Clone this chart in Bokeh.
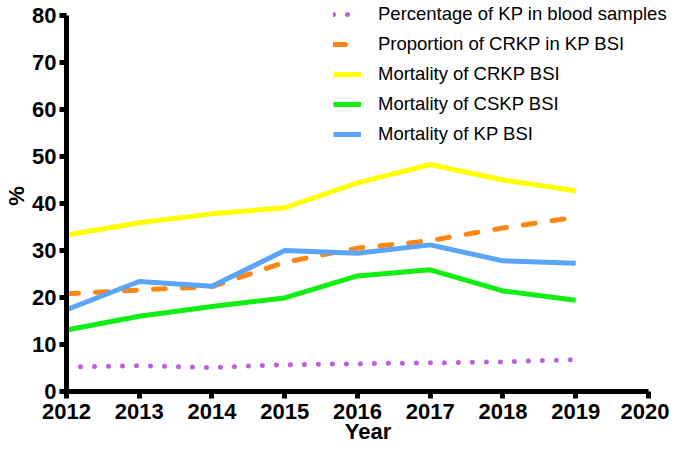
from bokeh.plotting import figure
from bokeh.models import Range1d, Legend, LegendItem, FixedTicker
from bokeh.embed import file_html
from bokeh.resources import INLINE

years = [2012, 2013, 2014, 2015, 2016, 2017, 2018, 2019]
pct_kp_blood = [5.2, 5.5, 5.1, 5.7, 5.9, 6.1, 6.3, 6.8]
prop_crkp = [20.8, 21.6, 22.3, 27.5, 30.5, 32.1, 34.8, 37.1]
mort_crkp = [33.3, 35.9, 37.8, 39.1, 44.4, 48.3, 45.0, 42.7]
mort_cskp = [13.1, 16.0, 18.1, 19.9, 24.6, 25.9, 21.4, 19.4]
mort_kp = [17.4, 23.4, 22.4, 30.0, 29.4, 31.2, 27.8, 27.3]

x_ticks = [2012, 2013, 2014, 2015, 2016, 2017, 2018, 2019, 2020]
y_ticks = [0, 10, 20, 30, 40, 50, 60, 70, 80]

labels = [
    "Percentage of KP in blood samples",
    "Proportion of CRKP in KP BSI",
    "Mortality of CRKP BSI",
    "Mortality of CSKP BSI",
    "Mortality of KP BSI",
]

FONT = "Liberation Sans"

p = figure(width=669, height=449, output_backend="svg", toolbar_location=None,
           x_range=Range1d(2012, 2020.29), y_range=Range1d(0, 83.2),
           min_border_left=66, min_border_right=0, min_border_top=0, min_border_bottom=58)
p.outline_line_color = None
p.grid.visible = False
p.background_fill_color = "white"
p.border_fill_color = "white"

for ax in (p.xaxis[0], p.yaxis[0]):
    ax.axis_line_width = 5
    ax.axis_line_color = "black"
    ax.major_tick_line_width = 5
    ax.major_tick_out = 7
    ax.major_tick_in = 0
    ax.minor_tick_line_color = None
    ax.major_label_text_font = FONT
    ax.major_label_text_font_style = "bold"
    ax.major_label_text_font_size = "22px"
    ax.major_label_text_color = "black"
    ax.axis_label_text_font = FONT
    ax.axis_label_text_font_style = "bold"
    ax.axis_label_text_font_size = "22px"
    ax.axis_label_text_color = "black"

p.xaxis.ticker = FixedTicker(ticks=x_ticks)
p.yaxis.ticker = FixedTicker(ticks=y_ticks)
p.xaxis.bounds = (2012, 2020)
p.yaxis.bounds = (0, 80)
p.xaxis.axis_label = "Year"
p.yaxis.axis_label = "%"
p.xaxis.major_label_standoff = 5
p.xaxis.axis_label_standoff = -3
p.yaxis.major_label_standoff = 3
p.yaxis.axis_label_standoff = 0

r_purple = p.line(years, pct_kp_blood, line_color="#BF5FDF", line_width=5,
                  line_dash="0 14", line_cap="round")
r_orange = p.line(years, prop_crkp, line_color="#FF8515", line_width=5,
                  line_dash="12 17", line_cap="round")
r_yellow = p.line(years, mort_crkp, line_color="#FFFF00", line_width=5)
r_green = p.line(years, mort_cskp, line_color="#11EE11", line_width=5)
r_blue = p.line(years, mort_kp, line_color="#5AA5F8", line_width=5)

legend = Legend(items=[LegendItem(label=l, renderers=[r]) for l, r in zip(
    labels, [r_purple, r_orange, r_yellow, r_green, r_blue])])
legend.location = (267, 246)
legend.border_line_color = None
legend.background_fill_alpha = 0
legend.padding = 0
legend.margin = 0
legend.spacing = 8
legend.glyph_width = 28
legend.glyph_height = 20
legend.label_height = 20
legend.label_standoff = 17
legend.label_text_font = FONT
legend.label_text_font_size = "18.5px"
legend.label_text_color = "black"
p.add_layout(legend, "center")

open("out.html", "w").write(file_html(p, INLINE))
